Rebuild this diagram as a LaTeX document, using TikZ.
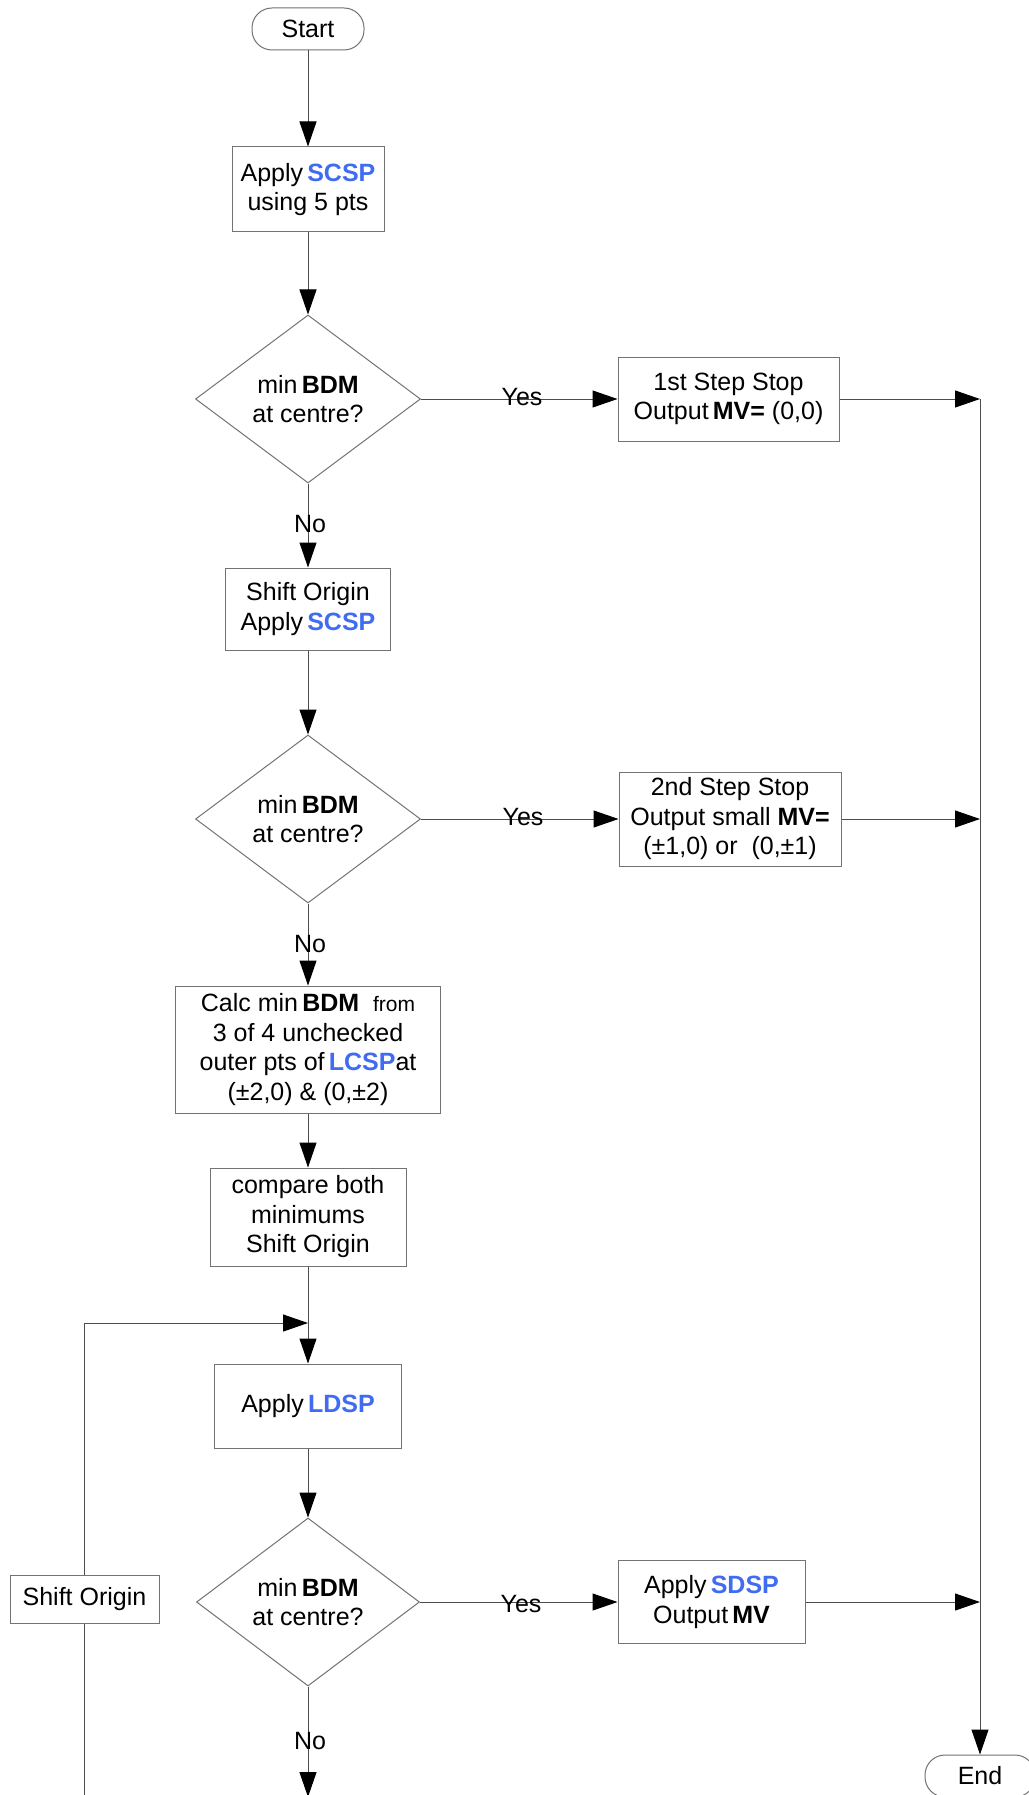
\documentclass[tikz,border=0pt]{standalone}
\usepackage{fontspec}
\setmainfont{Liberation Sans}
\usetikzlibrary{shapes.geometric,arrows.meta}
\definecolor{keyblue}{RGB}{64,108,240}
\newcommand{\kw}[1]{\textcolor{keyblue}{\textbf{#1}}}

\begin{document}
\begin{tikzpicture}[x=1pt,y=-1pt,
  font=\fontsize{25}{29.5}\selectfont,
  box/.style={draw=black!55, line width=1pt, rectangle, align=center, inner sep=0pt},
  decision/.style={draw=black!55, line width=1pt, diamond, align=center, inner sep=0pt,
                   minimum width=225pt, minimum height=168pt},
  terminal/.style={draw=black!55, line width=1pt, rectangle, rounded corners=20pt,
                   minimum width=112pt, minimum height=42pt, inner sep=0pt},
  link/.style={draw=black!70, line width=1pt},
  flow/.style={link, -{Triangle[length=25pt,width=17pt,color=black]}},
  lbl/.style={inner sep=0pt}
]
\useasboundingbox[fill=white] (0,0) rectangle (1028,1795);

% main column
\node[terminal] (start) at (308,29) {Start};
\node[box, minimum width=152pt, minimum height=85pt] (scsp) at (308,189.5)
  {Apply\,\kw{SCSP}\\using 5 pts};
\node[decision] (d1) at (308,399) {min\,\textbf{BDM}\\at centre?};
\node[box, minimum width=165pt, minimum height=82pt] (shift1) at (308,609)
  {Shift Origin\\Apply\,\kw{SCSP}};
\node[decision] (d2) at (308,819) {min\,\textbf{BDM}\\at centre?};
\node[box, minimum width=265pt, minimum height=127pt] (calc) at (308,1049.5)
  {Calc min\,\textbf{BDM}~~{\fontsize{21}{29}\selectfont from}\\3 of 4 unchecked\\outer pts of\,\kw{LCSP}at\\(±2,0) \& (0,±2)};
\node[box, minimum width=196pt, minimum height=98pt] (cmp) at (308,1217)
  {compare both\\minimums\\Shift Origin};
\coordinate (join) at (308,1323);
\node[box, minimum width=187pt, minimum height=84pt] (ldsp) at (308,1406)
  {Apply\,\kw{LDSP}};
\node[decision, minimum width=223pt] (d3) at (308,1602) {min\,\textbf{BDM}\\at centre?};
\coordinate (down) at (308,1797);

% right column
\node[box, minimum width=221pt, minimum height=84pt] (stop1) at (728.5,399)
  {1st Step Stop\\Output\,\textbf{MV=} (0,0)};
\node[box, minimum width=222pt, minimum height=94pt] (stop2) at (730,819)
  {2nd Step Stop\\Output small \textbf{MV=}\\(±1,0) or~~(0,±1)};
\node[box, minimum width=187pt, minimum height=83pt] (sdsp) at (711.5,1602)
  {Apply\,\kw{SDSP}\\Output\,\textbf{MV}};
\coordinate (rail1) at (980,399);
\coordinate (rail2) at (980,819);
\coordinate (rail3) at (980,1602);
\node[terminal, minimum width=110pt] (end) at (980,1776) {End};

% loop-back branch
\node[box, minimum width=149pt, minimum height=48pt] (shift2) at (84.5,1599) {Shift Origin};
\coordinate (loopin) at (84.5,1800);

% connectors
\draw[flow] (start) -- (scsp);
\draw[flow] (scsp) -- (d1);
\draw[flow] (d1) -- (stop1);
\draw[flow] (d1) -- (shift1);
\draw[flow] (shift1) -- (d2);
\draw[flow] (d2) -- (stop2);
\draw[flow] (d2) -- (calc);
\draw[flow] (calc) -- (cmp);
\draw[flow] (cmp) -- (ldsp);
\draw[flow] (ldsp) -- (d3);
\draw[flow] (d3) -- (sdsp);
\draw[flow] (d3) -- (down);
\draw[flow] (stop1) -- (rail1);
\draw[flow] (stop2) -- (rail2);
\draw[flow] (sdsp) -- (rail3);
\draw[flow] (rail1) -- (end);
\draw[link] (loopin) -- (shift2);
\draw[flow] (shift2) |- (join);

% branch labels
\node[lbl] (yes1) at (522,397) {Yes};
\node[lbl] (yes2) at (523,817) {Yes};
\node[lbl] (yes3) at (521,1604) {Yes};
\node[lbl] (no1) at (310,524.5) {No};
\node[lbl] (no2) at (310,944.5) {No};
\node[lbl] (no3) at (310,1740.5) {No};
\end{tikzpicture}
\end{document}
